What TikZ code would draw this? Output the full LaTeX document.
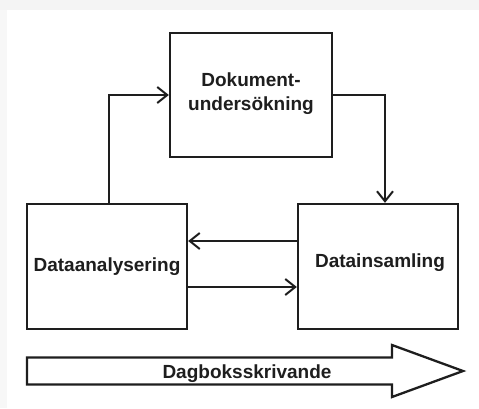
\documentclass[tikz,border=0pt]{standalone}
\usepackage{fontspec}
\setmainfont{Liberation Sans}
\usetikzlibrary{arrows.meta}
\definecolor{ink}{HTML}{1E1E1E}
% place a text so that its baseline sits #1 below the node centre
\newcommand{\atbase}[2]{\raisebox{-#1}[0pt][0pt]{#2}}
\begin{document}
\begin{tikzpicture}[x=1pt,y=-1pt,
  label text/.style={font=\bfseries\fontsize{19}{24}\selectfont,text=ink,inner sep=0pt},
  box/.style={draw=ink,line width=2.3pt,minimum width=160pt,minimum height=125pt,align=center,label text},
  flow/.style={draw=ink,line width=2.3pt,-{Straight Barb[length=10pt,width=16pt,line width=2pt]}}]
  % canvas and its faint shaded rim
  \useasboundingbox (0,0) rectangle (479,408);
  \fill[white] (0,0) rectangle (479,408);
  \fill[gray!9] (0,0) rectangle (479,10);
  \fill[gray!6] (0,10) rectangle (7,408);

  % the three stages
  \node[box,minimum width=162pt,minimum height=124pt] (T) at (251,95)
    {\atbase{15pt}{\begin{tabular}[b]{@{}c@{}}Dokument-\\undersökning\end{tabular}}};
  \node[box] (L) at (107,266.5) {\atbase{4.5pt}{Dataanalysering}};
  \node[box] (R) at (378,266.5) {\hspace{4pt}\atbase{1.2pt}{Datainsamling}};

  % flows between the stages
  \draw[flow] ([xshift=2pt]L.north) |- (T.west);
  \draw[flow] (T.east) -| ([xshift=7pt]R.north);
  \draw[flow] ([yshift=25.5pt]R.west) -- ([yshift=25.5pt]L.east);
  \draw[flow] ([yshift=-20.5pt]L.east) -- ([yshift=-20.5pt]R.west);

  % wide arrow along the bottom
  \coordinate (s1) at (27,357.5);
  \coordinate (s2) at (392,357.5);
  \coordinate (h1) at (392,345);
  \coordinate (tip) at (463,371);
  \coordinate (h2) at (392,397);
  \coordinate (s3) at (392,384.5);
  \coordinate (s4) at (27,384.5);
  \draw[ink,line width=2.3pt,line join=miter,fill=white] (s1) -- (s2) -- (h1) -- (tip) -- (h2) -- (s3) -- (s4) -- cycle;
  \node[label text] (D) at (247,371) {\atbase{7.3pt}{Dagboksskrivande}};
\end{tikzpicture}
\end{document}
